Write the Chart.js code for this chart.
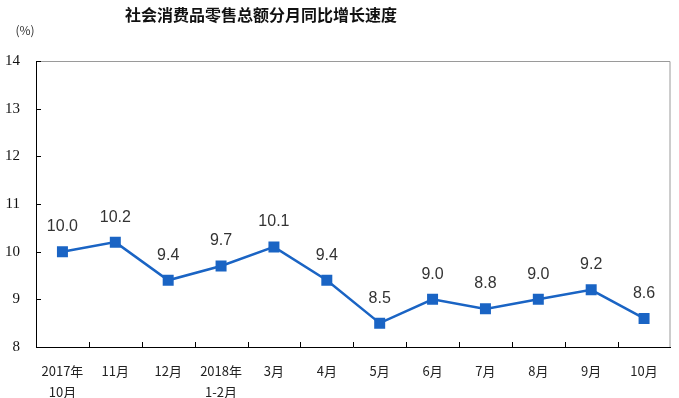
<!DOCTYPE html>
<html>
<head>
<meta charset="utf-8">
<script src="https://cdn.jsdelivr.net/npm/chart.js@4/dist/chart.umd.min.js"></script>
<style>
  html, body { margin: 0; padding: 0; background: #fff; }
  #wrap { width: 679px; height: 398px; }
</style>
</head>
<body>
<div id="wrap"><canvas id="salesChart" width="679" height="398"></canvas></div>
<script>
const chartTitle = '社会消费品零售总额分月同比增长速度';
const unitLabel = '(%)';
const months = [['2017年', '10月'], '11月', '12月', ['2018年', '1-2月'], '3月', '4月', '5月', '6月', '7月', '8月', '9月', '10月'];
const growth = [10.0, 10.2, 9.4, 9.7, 10.1, 9.4, 8.5, 9.0, 8.8, 9.0, 9.2, 8.6];
const yMin = 8;
const yMax = 14;

// title, frame, inward ticks and value labels
const decor = {
  id: 'decor',
  afterDraw(chart) {
    const { ctx, chartArea: a, scales } = chart;
    ctx.save();

    ctx.fillStyle = '#111';
    ctx.font = 'bold 16px "Noto Sans CJK SC"';
    ctx.textAlign = 'center';
    ctx.textBaseline = 'middle';
    ctx.fillText(chartTitle, 261, 15);

    ctx.font = '12px "Noto Sans CJK SC"';
    ctx.fillStyle = '#333';
    ctx.fillText(unitLabel, 25, 30);

    // gray frame top/right
    ctx.strokeStyle = '#9a9a9a';
    ctx.lineWidth = 1;
    ctx.beginPath();
    ctx.moveTo(a.left, a.top + 0.5);
    ctx.lineTo(a.right - 0.5, a.top + 0.5);
    ctx.lineTo(a.right - 0.5, a.bottom);
    ctx.stroke();

    // inward ticks
    ctx.strokeStyle = '#000';
    ctx.beginPath();
    scales.y.ticks.forEach(t => {
      const y = Math.round(scales.y.getPixelForValue(t.value)) + 0.5;
      ctx.moveTo(a.left, y);
      ctx.lineTo(a.left + 5, y);
    });
    for (let i = 1; i < months.length; i++) {
      const x = Math.round((scales.x.getPixelForValue(i - 1) + scales.x.getPixelForValue(i)) / 2) + 0.5;
      ctx.moveTo(x, a.bottom);
      ctx.lineTo(x, a.bottom - 5);
    }
    ctx.stroke();

    // value labels
    const meta = chart.getDatasetMeta(0);
    ctx.fillStyle = '#333';
    ctx.font = '16px "Liberation Sans"';
    ctx.textAlign = 'center';
    ctx.textBaseline = 'middle';
    meta.data.forEach((pt, i) => {
      ctx.fillText(growth[i].toFixed(1), pt.x, pt.y - 25);
    });
    ctx.restore();
  }
};

new Chart(document.getElementById('salesChart'), {
  type: 'line',
  data: {
    labels: months,
    datasets: [{
      data: growth,
      borderColor: '#1a64c4',
      backgroundColor: '#1a64c4',
      borderWidth: 2.5,
      pointStyle: 'rect',
      pointRadius: 6,
      pointHoverRadius: 6,
      tension: 0
    }]
  },
  options: {
    responsive: false,
    animation: false,
    devicePixelRatio: 1,
    layout: { padding: { top: 61, right: 7, left: 0, bottom: 0 } },
    plugins: {
      legend: { display: false },
      tooltip: { enabled: false }
    },
    scales: {
      x: {
        offset: true,
        grid: { display: false, offset: true },
        border: { display: true, color: '#000', width: 1 },
        ticks: {
          color: '#222',
          font: { family: '"Noto Sans CJK SC"', size: 13, lineHeight: 1.6 },
          padding: 6,
          maxRotation: 0,
          autoSkip: false
        },
        afterFit: s => { s.height = 51; }
      },
      y: {
        min: yMin,
        max: yMax,
        grid: { display: false },
        border: { display: true, color: '#000', width: 1 },
        ticks: {
          stepSize: 1,
          color: '#111',
          font: { family: '"Liberation Serif"', size: 15 },
          padding: 8
        },
        afterFit: s => { s.width = 36; }
      }
    }
  },
  plugins: [decor]
});
</script>
</body>
</html>
